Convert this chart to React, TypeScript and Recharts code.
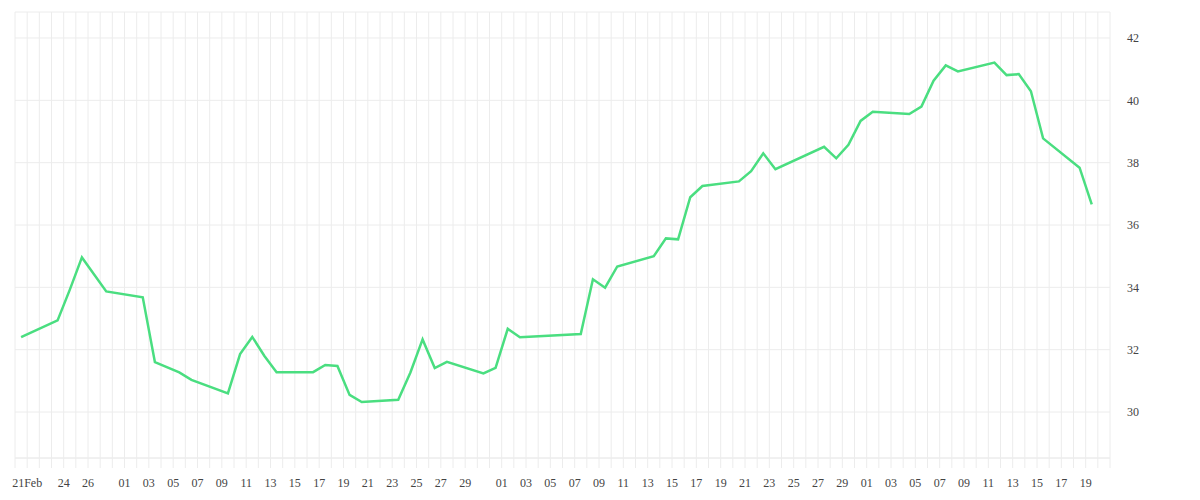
import { LineChart, Line, XAxis, YAxis, CartesianGrid } from 'recharts'

// trading days (UTC) and closing prices
const dates = [
  '2026-02-20', '2026-02-23', '2026-02-24', '2026-02-25', '2026-02-27',
  '2026-03-02', '2026-03-03', '2026-03-05', '2026-03-06', '2026-03-09',
  '2026-03-10', '2026-03-11', '2026-03-12', '2026-03-13', '2026-03-16',
  '2026-03-17', '2026-03-18', '2026-03-19', '2026-03-20', '2026-03-23',
  '2026-03-24', '2026-03-25', '2026-03-26', '2026-03-27', '2026-03-30',
  '2026-03-31', '2026-04-01', '2026-04-02', '2026-04-07', '2026-04-08',
  '2026-04-09', '2026-04-10', '2026-04-13', '2026-04-14', '2026-04-15',
  '2026-04-16', '2026-04-17', '2026-04-20', '2026-04-21', '2026-04-22',
  '2026-04-23', '2026-04-27', '2026-04-28', '2026-04-29', '2026-04-30',
  '2026-05-01', '2026-05-04', '2026-05-05', '2026-05-06', '2026-05-07',
  '2026-05-08', '2026-05-11', '2026-05-12', '2026-05-13', '2026-05-14',
  '2026-05-15', '2026-05-18', '2026-05-19',
]

const prices = [
  32.40, 32.94, 33.92, 34.96, 33.87,
  33.68, 31.60, 31.27, 31.03, 30.60,
  31.86, 32.41, 31.80, 31.28, 31.28,
  31.51, 31.48, 30.55, 30.32, 30.39,
  31.27, 32.33, 31.41, 31.61, 31.24,
  31.42, 32.67, 32.40, 32.50, 34.26,
  33.99, 34.67, 35.00, 35.57, 35.54,
  36.89, 37.25, 37.40, 37.73, 38.30,
  37.79, 38.51, 38.14, 38.57, 39.34,
  39.63, 39.56, 39.80, 40.63, 41.12,
  40.93, 41.21, 40.81, 40.84, 40.29,
  38.78, 37.84, 36.66,
]

const tickDates = [
  '2026-02-21', '2026-02-24', '2026-02-26',
  '2026-03-01', '2026-03-03', '2026-03-05', '2026-03-07', '2026-03-09',
  '2026-03-11', '2026-03-13', '2026-03-15', '2026-03-17', '2026-03-19',
  '2026-03-21', '2026-03-23', '2026-03-25', '2026-03-27', '2026-03-29',
  '2026-04-01', '2026-04-03', '2026-04-05', '2026-04-07', '2026-04-09',
  '2026-04-11', '2026-04-13', '2026-04-15', '2026-04-17', '2026-04-19',
  '2026-04-21', '2026-04-23', '2026-04-25', '2026-04-27', '2026-04-29',
  '2026-05-01', '2026-05-03', '2026-05-05', '2026-05-07', '2026-05-09',
  '2026-05-11', '2026-05-13', '2026-05-15', '2026-05-17', '2026-05-19',
]

const tickLabels = [
  '21Feb', '24', '26',
  '01', '03', '05', '07', '09', '11', '13', '15', '17', '19', '21', '23', '25', '27', '29',
  '01', '03', '05', '07', '09', '11', '13', '15', '17', '19', '21', '23', '25', '27', '29',
  '01', '03', '05', '07', '09', '11', '13', '15', '17', '19',
]

const yTicks = [30, 32, 34, 36, 38, 40, 42]

const START = Date.UTC(2026, 1, 20)
const END = Date.UTC(2026, 4, 21)
const DAY = 86400000
const dayIndex = (s: string) => (Date.parse(s + 'T00:00:00Z') - START) / DAY

const totalDays = (END - START) / DAY
const dailyTicks = Array.from({ length: totalDays + 1 }, (_, i) => i)

const labelByDay: Record<number, string> = {}
tickDates.forEach((d, i) => {
  labelByDay[dayIndex(d)] = tickLabels[i]
})

// points sit at midday
const chartData = dates.map((d, i) => ({ x: dayIndex(d) + 0.5, price: prices[i] }))

const GRID = '#ececec'

export default function App() {
  return (
    <LineChart
      width={1184}
      height={484}
      data={chartData}
      margin={{ top: 4, right: 22, left: 7, bottom: 4 }}
    >
      <CartesianGrid stroke={GRID} strokeWidth={1} />
      <XAxis
        type="number"
        dataKey="x"
        domain={[0, totalDays]}
        ticks={dailyTicks}
        interval={0}
        tickFormatter={(v: number) => labelByDay[v] ?? ''}
        axisLine={{ stroke: GRID }}
        tickLine={{ stroke: GRID }}
        tickSize={10}
        tickMargin={10}
        height={30}
        tick={{ fill: '#444', fontSize: 12 }}
      />
      <YAxis
        orientation="right"
        type="number"
        domain={[28.525, 42.834]}
        ticks={yTicks}
        allowDataOverflow
        axisLine={false}
        tickLine={false}
        tickSize={6}
        tickMargin={11}
        width={60}
        tick={{ fill: '#444', fontSize: 12 }}
      />
      <Line
        type="linear"
        dataKey="price"
        stroke="#4ade80"
        strokeWidth={2.5}
        dot={false}
        isAnimationActive={false}
      />
    </LineChart>
  )
}
